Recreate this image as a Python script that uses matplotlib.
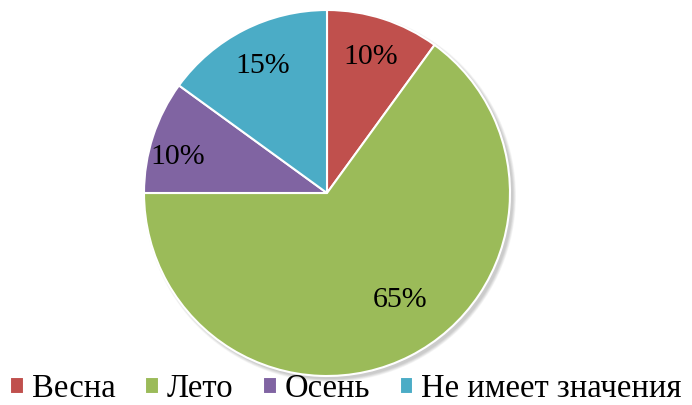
import matplotlib.pyplot as plt
from matplotlib.patches import Circle

labels = ["Весна", "Лето", "Осень", "Не имеет значения"]
values = [10, 65, 10, 15]
colors = ["#C0504D", "#9BBB59", "#8064A2", "#4BACC6"]

plt.rcParams['font.family'] = ['Liberation Serif', 'DejaVu Serif']

fig = plt.figure(figsize=(6.92, 4.05), dpi=100)
ax = fig.add_axes([0, 0, 1, 1])

cx, cy, r = 327, 212, 183

# soft shadow to the lower right
for i in range(6):
    ax.add_patch(Circle((cx + 3, cy - 3), r + 3 - i * 0.6, color='black',
                        alpha=0.035, lw=0, zorder=0))

wedges, texts, autotexts = ax.pie(
    values, colors=colors, startangle=90, counterclock=False,
    center=(cx, cy), radius=r, autopct='%d%%', pctdistance=0.78,
    wedgeprops=dict(edgecolor='white', linewidth=1.5),
    textprops=dict(fontsize=21.5, color='black'), frame=True)
ax.set_xlim(0, 692)
ax.set_ylim(0, 405)
ax.set_aspect('equal')
ax.axis('off')

# Excel-like label placement
autotexts[1].set_position((cx + 73, cy - 107))
autotexts[2].set_position((cx - 149, cy + 36))

ax.legend(wedges, labels, loc='lower center', bbox_to_anchor=(0.5, 0.002),
          ncol=4, frameon=False, fontsize=23.5, handlelength=0.42,
          handleheight=0.42, handletextpad=0.25, columnspacing=0.9,
          borderaxespad=0, borderpad=0)

fig.savefig("out.png", dpi=100)
